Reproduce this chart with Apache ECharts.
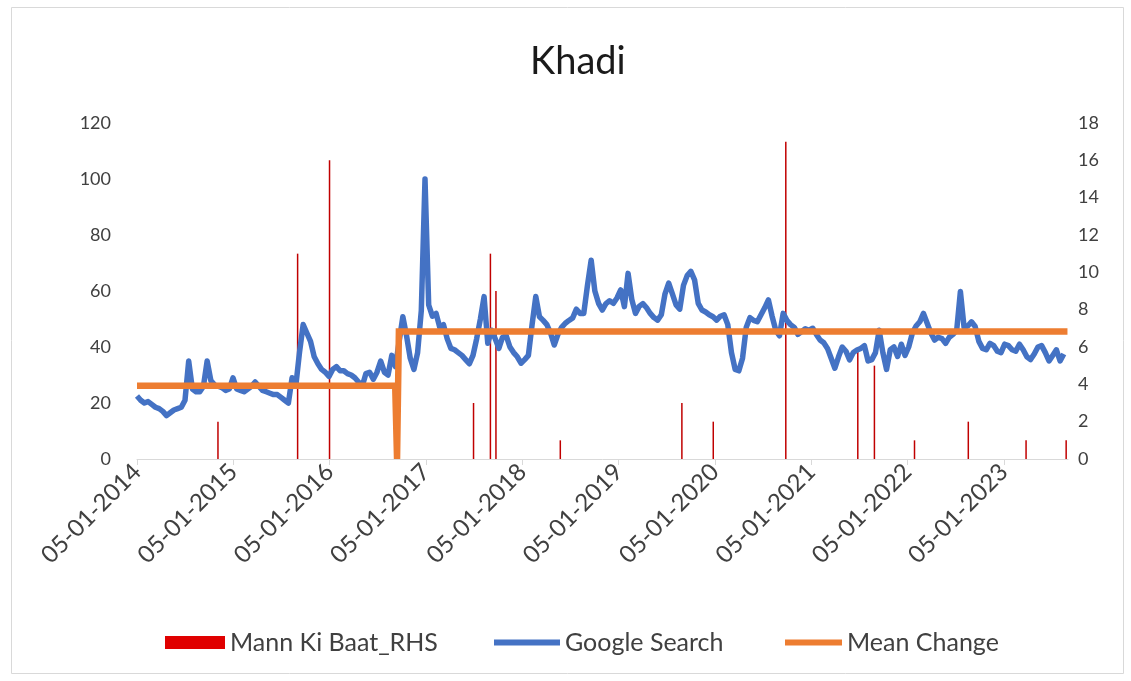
<!DOCTYPE html>
<html><head><meta charset="utf-8">
<script src="https://cdn.jsdelivr.net/npm/echarts@6/dist/echarts.min.js"></script>
<style>html,body{margin:0;padding:0;background:#fff}#c{width:1131px;height:681px}</style>
</head><body><div id="c"></div>
<script>
// ---- data ----
const startDate = '2014-01-05';      // first sample of the Google Search series
const sampleStepDays = 14;           // series read every two weeks
const googleSearch = [
 22.5,21,20,20.5,19.5,18.5,18,17,15.5,16.5,17.5,18,18.5,21,35,25,24,24,26,35,
 28,26.5,26,25.5,24.5,25,29,25,24.5,24,25,26,27.5,26,24.5,24,23.5,23,23,22,
 21,20,29,26,38,48,45,42,36.5,34,32,31,29.5,32,33,31.5,31.5,30.5,30,29,
 27.5,26,30.5,31,28.5,31,35,31,30,37,33,42,50.8,44,36,32,38,53,100,55,
 51,52,47,48,43,39.5,39,38,37,35.5,34,37,43,50,58,41.3,46,43,39.5,43.5,
 44,40,38,36.5,34.2,35.5,37,48,58,50.8,49.5,48,45,40.7,44.5,47,48.5,49.5,50.4,53.5,
 52,52,62,71,60,55.6,53.2,55.5,56.5,55.6,57.5,60.4,54.4,66.3,57,52,54.5,55.5,54,52,
 50.5,49.6,51.5,59,62.8,59,55,53.5,62,65.5,67,64,55.6,53.2,52.5,51.5,50.8,49.6,51,51.5,
 48,38,32,31.5,36,47,50.5,49.5,49,51.5,54,56.8,51,46,44,52,49.5,48,47,44.5,
 45.5,46.5,46,46.7,44.5,42.5,41.5,39.5,36,32.4,36.5,40,38.5,35.4,38,38.9,39.5,40.5,35,35.5,
 38,46,38,32,39,40,36.6,41,37,40,45,47.5,49,52,48.5,45,42.5,43.5,43,41.3,
 43.5,44.5,46,59.8,47,47.5,49,47.3,42,39.5,39,41.3,40.5,38.5,38,41,40.5,39,38.5,41,
 39,36.5,35.5,37.5,40,40.5,38,35,37,39,35,37.5
];
const mkbDates = ['2014-11-08','2015-09-06','2016-01-05','2017-07-04','2017-09-06','2017-09-27',
  '2018-05-29','2019-09-02','2019-12-30','2020-09-30','2021-06-30','2021-09-01',
  '2022-01-31','2022-08-23','2023-03-30','2023-08-29'];
const mkbValues = [2,11,16,3,11,9,1,3,2,17,6,5,1,2,1,1];
const meanDates = ['2014-01-05','2016-09-10','2016-09-17','2016-09-24','2023-09-03'];
const meanValues = [26.2,26.2,0,45.5,45.5];
const yearLabels = ['05-01-2014','05-01-2015','05-01-2016','05-01-2017','05-01-2018',
  '05-01-2019','05-01-2020','05-01-2021','05-01-2022','05-01-2023'];
const leftTicks = {min:0, max:120, step:20};
const rightTicks = {min:0, max:18, step:2};

// ---- build ----
const DAY = 86400000;
const day0 = Date.parse(startDate);
const dayOf = s => Math.round((Date.parse(s) - day0) / DAY);
const YEAR = 365.25;
const googleData = googleSearch.map((v, i) => [i * sampleStepDays, v]);
const mkbData = mkbDates.map((d, i) => [dayOf(d), mkbValues[i]]);
const meanData = meanDates.map((d, i) => [dayOf(d), meanValues[i]]);
const yearTickValues = yearLabels.map((_, k) => k * YEAR);

const FONT = 'Lato';
const TXT = '#404040';
const legendText = {fontFamily: FONT, fontSize: 25, color: TXT};
const chart = echarts.init(document.getElementById('c'), null, {renderer: 'canvas'});
chart.setOption({
  animation: false,
  backgroundColor: '#fff',
  textStyle: {fontFamily: FONT},
  title: {text: 'Khadi', left: 525, top: 38,
    textStyle: {fontFamily: FONT, fontSize: 38, fontWeight: 'normal', color: '#1a1a1a'}},
  graphic: [{type: 'rect', left: 9, top: 5, shape: {width: 1112, height: 666},
    style: {fill: 'none', stroke: '#d9d9d9', lineWidth: 1}, silent: true}],
  grid: {left: 137, right: 63, top: 123, bottom: 222, containLabel: false},
  legend: [
    {data: [{name: 'Mann Ki Baat_RHS', icon: 'rect', itemStyle: {color: '#e00000'}}],
      left: 160, top: 625, itemWidth: 60, itemHeight: 13, textStyle: legendText},
    {data: [{name: 'Google Search', icon: 'rect'}],
      left: 489, top: 625, itemWidth: 66, itemHeight: 6, textStyle: legendText},
    {data: [{name: 'Mean Change', icon: 'rect'}],
      left: 780, top: 625, itemWidth: 57, itemHeight: 6, textStyle: legendText}
  ],
  xAxis: {
    type: 'value', min: 0, max: 3530, interval: YEAR,
    axisLine: {show: true, lineStyle: {color: '#d9d9d9', width: 1}},
    axisTick: {show: true, length: 6, lineStyle: {color: '#d9d9d9'}, customValues: yearTickValues},
    splitLine: {show: false},
    axisLabel: {
      rotate: 45, margin: 9, fontFamily: FONT, fontSize: 24, color: TXT,
      customValues: yearTickValues,
      formatter: v => {
        const k = v / YEAR, r = Math.round(k);
        return Math.abs(k - r) < 0.01 && yearLabels[r] ? yearLabels[r] : '';
      }
    }
  },
  yAxis: [
    {type: 'value', min: leftTicks.min, max: leftTicks.max, interval: leftTicks.step,
      axisLine: {show: false}, axisTick: {show: false}, splitLine: {show: false},
      axisLabel: {margin: 26, fontFamily: FONT, fontSize: 18, color: TXT}},
    {type: 'value', min: rightTicks.min, max: rightTicks.max, interval: rightTicks.step,
      position: 'right',
      axisLine: {show: false}, axisTick: {show: false}, splitLine: {show: false},
      axisLabel: {margin: 10, fontFamily: FONT, fontSize: 18, color: TXT}}
  ],
  series: [
    {name: 'Mann Ki Baat_RHS', type: 'bar', yAxisIndex: 1, data: mkbData, barWidth: 1.5,
      itemStyle: {color: '#c00000'}, z: 1},
    {name: 'Google Search', type: 'line', yAxisIndex: 0, data: googleData, symbol: 'none',
      lineStyle: {color: '#4472c4', width: 5.5, join: 'round'}, itemStyle: {color: '#4472c4'}, z: 2},
    {name: 'Mean Change', type: 'line', yAxisIndex: 0, data: meanData, symbol: 'none',
      lineStyle: {color: '#ed7d31', width: 6.5, join: 'miter', cap: 'butt'}, itemStyle: {color: '#ed7d31'}, z: 3}
  ]
});
</script></body></html>
